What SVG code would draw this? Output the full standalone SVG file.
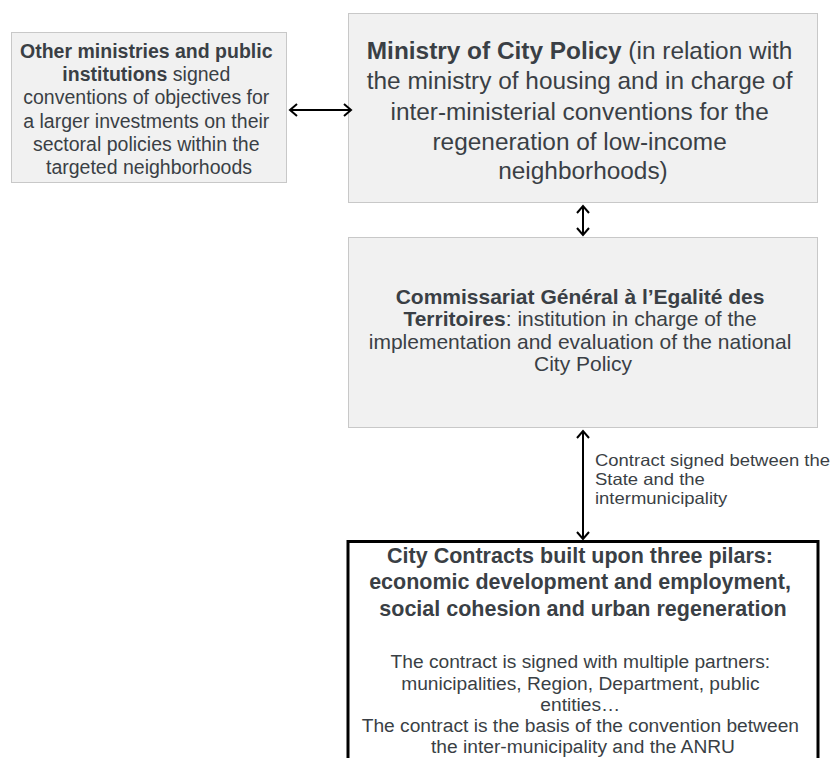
<svg xmlns="http://www.w3.org/2000/svg" width="833" height="758" viewBox="0 0 833 758">
<style>
.box{fill:#f1f1f1;stroke:#c8c8c8;stroke-width:1}
.t{font-family:"Liberation Sans",Arial,sans-serif;fill:#3a3f45;text-anchor:middle}
.b{font-weight:bold}
.conn{stroke:#000;stroke-width:2;fill:none;marker-start:url(#ah);marker-end:url(#ah)}
</style>
<defs>
<marker id="ah" viewBox="0 0 12 14" refX="10" refY="7" markerWidth="12" markerHeight="14" markerUnits="userSpaceOnUse" orient="auto-start-reverse">
<path d="M3,1 L10,7 L3,13" fill="none" stroke="#000" stroke-width="2"/>
</marker>
</defs>
<rect width="833" height="758" fill="#fff"/>
<g id="n1">
<rect class="box" x="11.5" y="32.5" width="275" height="150"/>
<text class="t" font-size="19.5">
<tspan x="149" y="58" class="b">Other ministries and public</tspan>
<tspan x="149" y="81"><tspan class="b">institutions</tspan> signed</tspan>
<tspan x="149" y="104">conventions of objectives for</tspan>
<tspan x="149" y="127.5">a larger investments on their</tspan>
<tspan x="149" y="150.5">sectoral policies within the</tspan>
<tspan x="149" y="173.5">targeted neighborhoods</tspan>
</text>
</g>
<g id="n2">
<rect class="box" x="348.5" y="13.5" width="469" height="189"/>
<text class="t" font-size="24.4">
<tspan x="583" y="59"><tspan class="b">Ministry of City Policy</tspan> (in relation with</tspan>
<tspan x="583" y="89">the ministry of housing and in charge of</tspan>
<tspan x="583" y="119.5">inter-ministerial conventions for the</tspan>
<tspan x="583" y="149.5">regeneration of low-income</tspan>
<tspan x="583" y="179">neighborhoods)</tspan>
</text>
</g>
<g id="n3">
<rect class="box" x="348.5" y="237.5" width="469" height="190"/>
<text class="t" font-size="21">
<tspan x="583" y="304" class="b">Commissariat Général à l’Egalité des</tspan>
<tspan x="583" y="326"><tspan class="b">Territoires</tspan>: institution in charge of the</tspan>
<tspan x="583" y="348.5">implementation and evaluation of the national</tspan>
<tspan x="583" y="371">City Policy</tspan>
</text>
</g>
<g id="n4">
<rect x="348" y="541.5" width="470" height="240" fill="#fff" stroke="#000" stroke-width="3"/>
<text class="t b" font-size="21.5">
<tspan x="583" y="563">City Contracts built upon three pilars:</tspan>
<tspan x="583" y="589">economic development and employment,</tspan>
<tspan x="583" y="615.5">social cohesion and urban regeneration</tspan>
</text>
<text class="t" font-size="19.2">
<tspan x="583" y="668">The contract is signed with multiple partners:</tspan>
<tspan x="583" y="689.5">municipalities, Region, Department, public</tspan>
<tspan x="583" y="710.7">entities…</tspan>
<tspan x="583" y="732">The contract is the basis of the convention between</tspan>
<tspan x="583" y="753.3">the inter-municipality and the ANRU</tspan>
</text>
</g>
<g id="connectors">
<line class="conn" x1="290" y1="110" x2="351" y2="110"/>
<line class="conn" x1="583" y1="206" x2="583" y2="235"/>
<line class="conn" x1="583" y1="431" x2="583" y2="539"/>
<text class="t" font-size="16.5" style="text-anchor:start" transform="translate(595,0) scale(1.12,1)">
<tspan x="0" y="466.5">Contract signed between the</tspan>
<tspan x="0" y="485.5">State and the</tspan>
<tspan x="0" y="504.5">intermunicipality</tspan>
</text>
</g>
</svg>
